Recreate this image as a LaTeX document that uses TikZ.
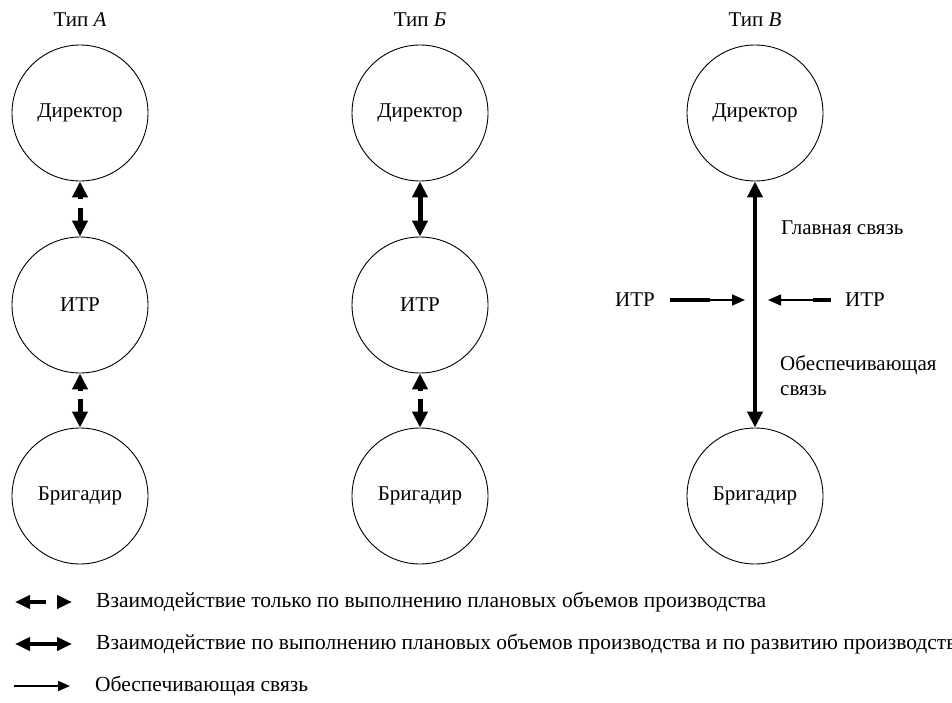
\documentclass[tikz,border=0pt]{standalone}
\usepackage{fontspec}
\setmainfont{Liberation Serif}
\usetikzlibrary{arrows.meta}

\tikzset{
  unit/.style={circle,draw,line width=0.9pt,minimum size=136pt,inner sep=0pt},
  shaft/.style={line width=5pt},
  headtip/.style={-{Triangle[width=15pt,length=16pt]}},
  bothtips/.style={{Triangle[width=15pt,length=16pt]}-{Triangle[width=15pt,length=16pt]}},
  legtext/.style={anchor=west,inner sep=0pt,font=\fontsize{21.5}{25}\selectfont}
}

\begin{document}
\begin{tikzpicture}[x=1pt,y=-1pt,font=\fontsize{21}{25}\selectfont]
    \useasboundingbox (0,0) rectangle (952,703);
    % columns
    \foreach \c/\x/\t in {A/80/А,B/420/Б,C/755/В}
    {
      \node (typ\c) at (\x,20) {Тип \textit{\t}};
      \node[unit] (dir\c) at (\x,113) {Директор};
      \node[unit] (brig\c) at (\x,496) {Бригадир};
    }
    \node[unit] (itrA) at (80,305) {ИТР};
    \node[unit] (itrB) at (420,305) {ИТР};
    % type A
    \draw[shaft,headtip] ([yshift=-18pt]dirA.south) -- (dirA.south);
    \draw[shaft,headtip] ([yshift=29pt]itrA.north) -- (itrA.north);
    \draw[shaft,headtip] ([yshift=-18pt]itrA.south) -- (itrA.south);
    \draw[shaft,headtip] ([yshift=29pt]brigA.north) -- (brigA.north);
    % type B
    \draw[shaft,bothtips] (dirB) -- (itrB);
    \draw[shaft,headtip] ([yshift=-18pt]itrB.south) -- (itrB.south);
    \draw[shaft,headtip] ([yshift=29pt]brigB.north) -- (brigB.north);
    % type C
    \draw[line width=4pt,bothtips] (dirC) -- (brigC);
    \node[anchor=west,inner sep=0pt] (mainC) at (781,228) {Главная связь};
    \node[anchor=west,inner sep=0pt,align=left] (suppC) at (780,376) {Обеспечивающая\\связь};
    \node (itrL) at (635,300) {ИТР};
    \node (itrR) at (865,300) {ИТР};
    \coordinate (hitL) at (745,300);
    \coordinate (hitR) at (768,300);
    \draw[line width=3.5pt] ([xshift=12pt]itrL.east) -- ++(40,0) coordinate (midL);
    \draw[line width=1.6pt,-{Triangle[width=11pt,length=13pt]}] (midL) -- (hitL);
    \draw[line width=3.5pt] ([xshift=-11pt]itrR.west) -- ++(-18,0) coordinate (midR);
    \draw[line width=1.6pt,-{Triangle[width=11pt,length=13pt]}] (midR) -- (hitR);
    % legend
    \node[legtext] (leg1) at (96,602) {Взаимодействие только по выполнению плановых объемов производства};
    \node[legtext] (leg2) at (96,644) {Взаимодействие по выполнению плановых объемов производства и по развитию производства};
    \node[legtext] (leg3) at (95,686) {Обеспечивающая связь};
    \draw[line width=4pt,-{Triangle[width=13pt,length=15pt]}] (46,602) -- (15,602);
    \draw[line width=4pt,-{Triangle[width=13pt,length=15pt]}] (57,602) -- (72,602);
    \draw[line width=4pt,{Triangle[width=13pt,length=15pt]}-{Triangle[width=13pt,length=15pt]}] (15,644) -- (72,644);
    \draw[line width=1.8pt,-{Triangle[width=10pt,length=12pt]}] (14,686) -- (70,686);
\end{tikzpicture}
\end{document}
